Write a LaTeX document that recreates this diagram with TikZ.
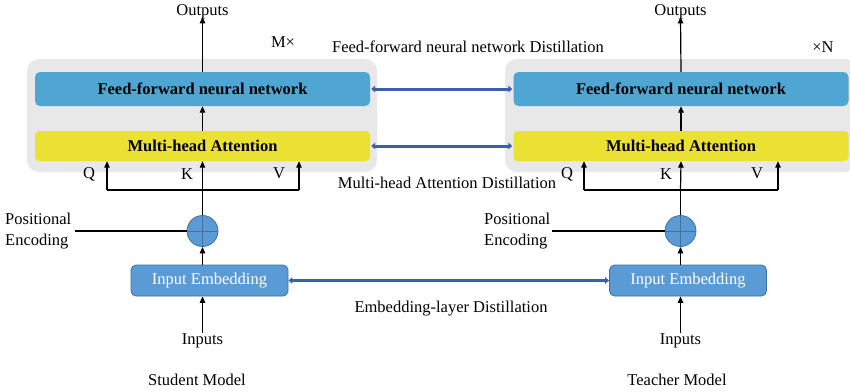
\documentclass[tikz,border=0pt]{standalone}
\usepackage{fontspec}
\setmainfont{Liberation Serif}
\usetikzlibrary{arrows.meta}
\definecolor{panelgray}{HTML}{E8E8E8}
\definecolor{ffnblue}{HTML}{4FA6D3}
\definecolor{mhayellow}{HTML}{EBE133}
\definecolor{embfill}{HTML}{5B9BD5}
\definecolor{embline}{HTML}{41719C}
\definecolor{distblue}{HTML}{3D5FA9}
\tikzset{
  panel/.style={fill=panelgray, draw=none, rounded corners=12pt},
  ffnbox/.style={fill=ffnblue, draw=none, rounded corners=5pt, minimum width=335pt, minimum height=34pt, font=\bfseries\fontsize{16.5}{19}\selectfont},
  mhabox/.style={fill=mhayellow, draw=none, rounded corners=4pt, minimum width=335pt, minimum height=30pt, font=\bfseries\fontsize{16.5}{19}\selectfont},
  embbox/.style={fill=embfill, draw=embline, line width=0.8pt, rounded corners=5pt, minimum width=157pt, minimum height=31pt, text=white, font=\fontsize{16.5}{19}\selectfont},
  plus/.style={circle, fill=embfill, draw=embline, line width=0.8pt, minimum size=31pt, inner sep=0pt},
  lbl/.style={font=\fontsize{16.5}{21}\selectfont, inner sep=0pt},
  flow/.style={line width=1.2pt, -{Triangle[length=6.5pt,width=5.5pt]}},
  wire/.style={line width=1.2pt},
  distill/.style={line width=3pt, draw=distblue, {Triangle[length=4pt,width=6.5pt]}-{Triangle[length=4pt,width=6.5pt]}},
}
\begin{document}
\begin{tikzpicture}[x=1pt, y=-1pt]
\useasboundingbox (0,0) rectangle (850,391);

% encoder panels
\fill[panel] (27,59) rectangle (377,172);
\fill[panel] (505,59) rectangle (858,172);

% student stack
\node[ffnbox] (sffn) at (202.5,89) {Feed-forward neural network};
\node[mhabox] (smha) at (202.5,146) {Multi-head Attention};
\node[plus] (splus) at (202.5,231) {};
\draw[embline, line width=0.8pt] (splus.north) -- (splus.south) (splus.west) -- (splus.east);
\node[embbox] (semb) at (209.5,280.5) {Input Embedding};
\node[lbl] (sin) at (202.5,341) {Inputs};
\node[lbl] (sout) at (202.5,11.5) {Outputs};
\node[lbl] (sM) at (283,42) {M×};
\node[lbl, align=left, anchor=west] (spe) at (5,231) {Positional\\Encoding};
\node[lbl] (sname) at (197,380) {Student Model};
\node[lbl] (sQ) at (89,174) {Q};
\node[lbl] (sK) at (187,174) {K};
\node[lbl] (sV) at (279,173) {V};
\coordinate (sbus) at (202.5,190);
\coordinate (sbusL) at (107,190);
\coordinate (sbusR) at (299,190);
\coordinate (speL) at (75,231);

\draw[flow] (sin.north) ++(0,-1) -- (sin.north |- semb.south);
\draw[flow] (sin.north |- semb.north) -- (splus.south);
\draw[wire] (splus.north) -- (sbus);
\draw[wire] (sbusL) -- (sbusR);
\draw[flow] (sbusL) -- (sbusL |- smha.south);
\draw[flow] (sbus) -- (smha.south);
\draw[flow] (sbusR) -- (sbusR |- smha.south);
\draw[flow] (smha.north) -- (sffn.south);
\draw[flow] (sffn.north) -- ([yshift=2pt]sout.south);
\draw[wire] (speL) -- (splus.west);

% teacher stack
\node[ffnbox] (tffn) at (681,89) {Feed-forward neural network};
\node[mhabox] (tmha) at (681,146) {Multi-head Attention};
\node[plus] (tplus) at (680.5,231) {};
\draw[embline, line width=0.8pt] (tplus.north) -- (tplus.south) (tplus.west) -- (tplus.east);
\node[embbox] (temb) at (688,280.5) {Input Embedding};
\node[lbl] (tin) at (680.5,341) {Inputs};
\node[lbl] (tout) at (680.5,11.5) {Outputs};
\node[lbl] (tN) at (823,47) {×N};
\node[lbl, align=left, anchor=west] (tpe) at (484,231) {Positional\\Encoding};
\node[lbl] (tname) at (677,380) {Teacher Model};
\node[lbl] (tQ) at (567,174) {Q};
\node[lbl] (tK) at (666,174) {K};
\node[lbl] (tV) at (757,173) {V};
\coordinate (tbus) at (680.5,190);
\coordinate (tbusL) at (584,190);
\coordinate (tbusR) at (778,190);
\coordinate (tpeL) at (552,231);

\draw[flow] (tin.north) ++(0,-1) -- (tin.north |- temb.south);
\draw[flow] (tin.north |- temb.north) -- (tplus.south);
\draw[wire] (tplus.north) -- (tbus);
\draw[wire] (tbusL) -- (tbusR);
\draw[flow] (tbusL) -- (tbusL |- tmha.south);
\draw[flow] (tbus) -- (tmha.south);
\draw[flow] (tbusR) -- (tbusR |- tmha.south);
\draw[flow] (tmha.north) -- (tffn.south);
\draw[flow] (tffn.north) -- ([yshift=2pt]tout.south);
\draw[wire] (tpeL) -- (tplus.west);

% distillation links
\draw[distill] ([xshift=1pt]sffn.east) -- ([xshift=-1pt]tffn.west);
\draw[distill] ([xshift=1pt]smha.east) -- ([xshift=-1pt]tmha.west);
\draw[distill] (semb.east) -- (temb.west);
\node[lbl] (dffn) at (468,47) {Feed-forward neural network Distillation};
\node[lbl] (dmha) at (447,183) {Multi-head Attention Distillation};
\node[lbl] (demb) at (451,309) {Embedding-layer Distillation};
\end{tikzpicture}
\end{document}
